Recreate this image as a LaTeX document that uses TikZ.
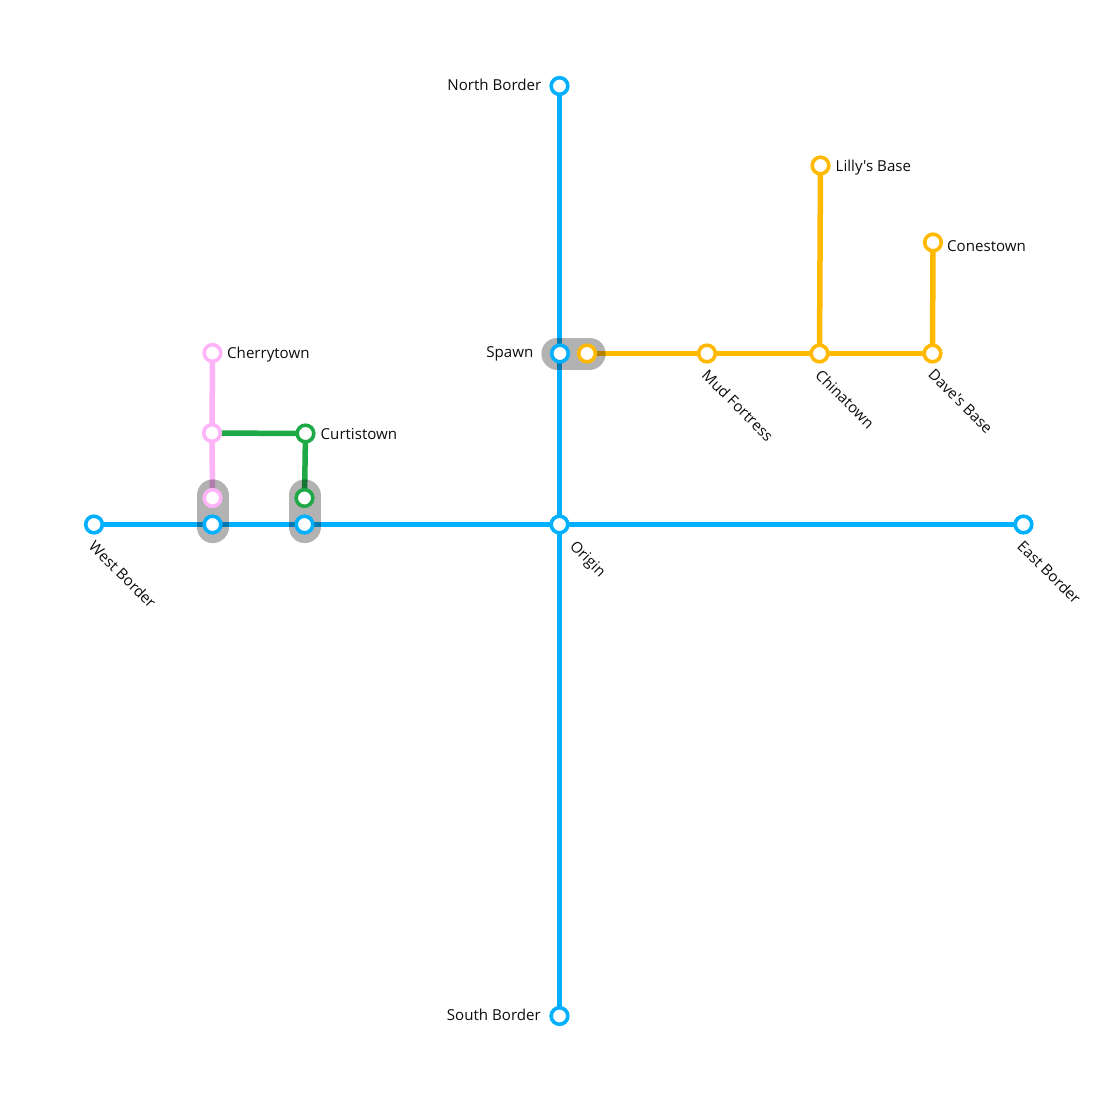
\documentclass[tikz,border=0pt]{standalone}
\usepackage{fontspec}
\newfontfamily\labelfont{Open Sans}
\definecolor{lblue}{HTML}{00B0FF}
\definecolor{lgold}{HTML}{FFB900}
\definecolor{lgreen}{HTML}{1FA846}
\definecolor{lpink}{HTML}{FFB3F8}
\tikzset{
  every node/.style={font=\labelfont\fontsize{15.1}{18}\selectfont, text=black!95, inner sep=0pt},
  route/.style={line width=5.5pt},
  iface/.style={line width=32pt, line cap=round, black, opacity=0.3, shorten <=-2.6pt, shorten >=-2.6pt},
  stn/.style={circle, draw=#1, fill=white, line width=3.6pt, minimum size=16.6pt, inner sep=0pt},
  diag/.style={rotate=-45, anchor=north west},
}
\begin{document}
\begin{tikzpicture}[x=1pt,y=-1pt]
\useasboundingbox (0,0) rectangle (1114,1103);
% stations positions
\coordinate (cN) at (559.5,86);
\coordinate (cS) at (559.5,1016);
\coordinate (cW) at (94,524.5);
\coordinate (cE) at (1023.5,524.5);
\coordinate (cO) at (559.5,524.5);
\coordinate (cSp) at (560,353.5);
\coordinate (cSg) at (587,353.5);
\coordinate (cMud) at (707,353.5);
\coordinate (cChi) at (819.5,353.5);
\coordinate (cDav) at (932.5,353.5);
\coordinate (cLil) at (820.5,165.5);
\coordinate (cCon) at (933,242.5);
\coordinate (cChe) at (212.5,353);
\coordinate (cCrs) at (212,433);
\coordinate (cCpk) at (212.5,498);
\coordinate (cCbl) at (212.5,524.5);
\coordinate (cCur) at (305.5,433.5);
\coordinate (cGgr) at (304.5,498);
\coordinate (cGbl) at (304.5,524.5);
% lines
\draw[route,lblue] (cN) -- (cS);
\draw[route,lblue] (cW) -- (cE);
\draw[route,lgold] (cSg) -- (cMud) -- (cChi) -- (cDav);
\draw[route,lgold] (cChi) -- (cLil);
\draw[route,lgold] (cDav) -- (cCon);
\draw[route,lpink] (cChe) -- (cCrs) -- (cCpk);
\draw[route,lgreen] (cCrs) -- (cCur) -- (cGgr);
% interchange
\draw[iface] (cSp) -- (cSg);
\draw[iface] (cCpk) -- (cCbl);
\draw[iface] (cGgr) -- (cGbl);
% stations
\node[stn=lblue] (N) at (cN) {};
\node[stn=lblue] (S) at (cS) {};
\node[stn=lblue] (W) at (cW) {};
\node[stn=lblue] (E) at (cE) {};
\node[stn=lblue] (O) at (cO) {};
\node[stn=lblue] (Sp) at (cSp) {};
\node[stn=lgold] (Sg) at (cSg) {};
\node[stn=lgold] (Mud) at (cMud) {};
\node[stn=lgold] (Chi) at (cChi) {};
\node[stn=lgold] (Dav) at (cDav) {};
\node[stn=lgold] (Lil) at (cLil) {};
\node[stn=lgold] (Con) at (cCon) {};
\node[stn=lpink] (Che) at (cChe) {};
\node[stn=lpink] (Crs) at (cCrs) {};
\node[stn=lpink] (Cpk) at (cCpk) {};
\node[stn=lblue] (Cbl) at (cCbl) {};
\node[stn=lgreen] (Cur) at (cCur) {};
\node[stn=lgreen] (Ggr) at (cGgr) {};
\node[stn=lblue] (Gbl) at (cGbl) {};
% labels
\node[anchor=east] (tN) at (541.5,85) {North Border};
\node[anchor=east] (tS) at (541,1015) {South Border};
\node[anchor=east] (tSp) at (533.5,354) {Spawn};
\node[anchor=west] (tLil) at (835.5,167.5) {Lilly's Base};
\node[anchor=west] (tCon) at (947,246) {Conestown};
\node[anchor=west] (tChe) at (227,354.5) {Cherrytown};
\node[anchor=west] (tCur) at (320.5,434.5) {Curtistown};
\node[diag] (tW) at (96,539) {West Border};
\node[diag] (tE) at (1024.5,539) {East Border};
\node[diag] (tO) at (577,539) {Origin};
\node[diag] (tMud) at (709,368) {Mud Fortress};
\node[diag] (tChi) at (822.5,368) {Chinatown};
\node[diag] (tDav) at (935,368) {Dave's Base};
\end{tikzpicture}
\end{document}
